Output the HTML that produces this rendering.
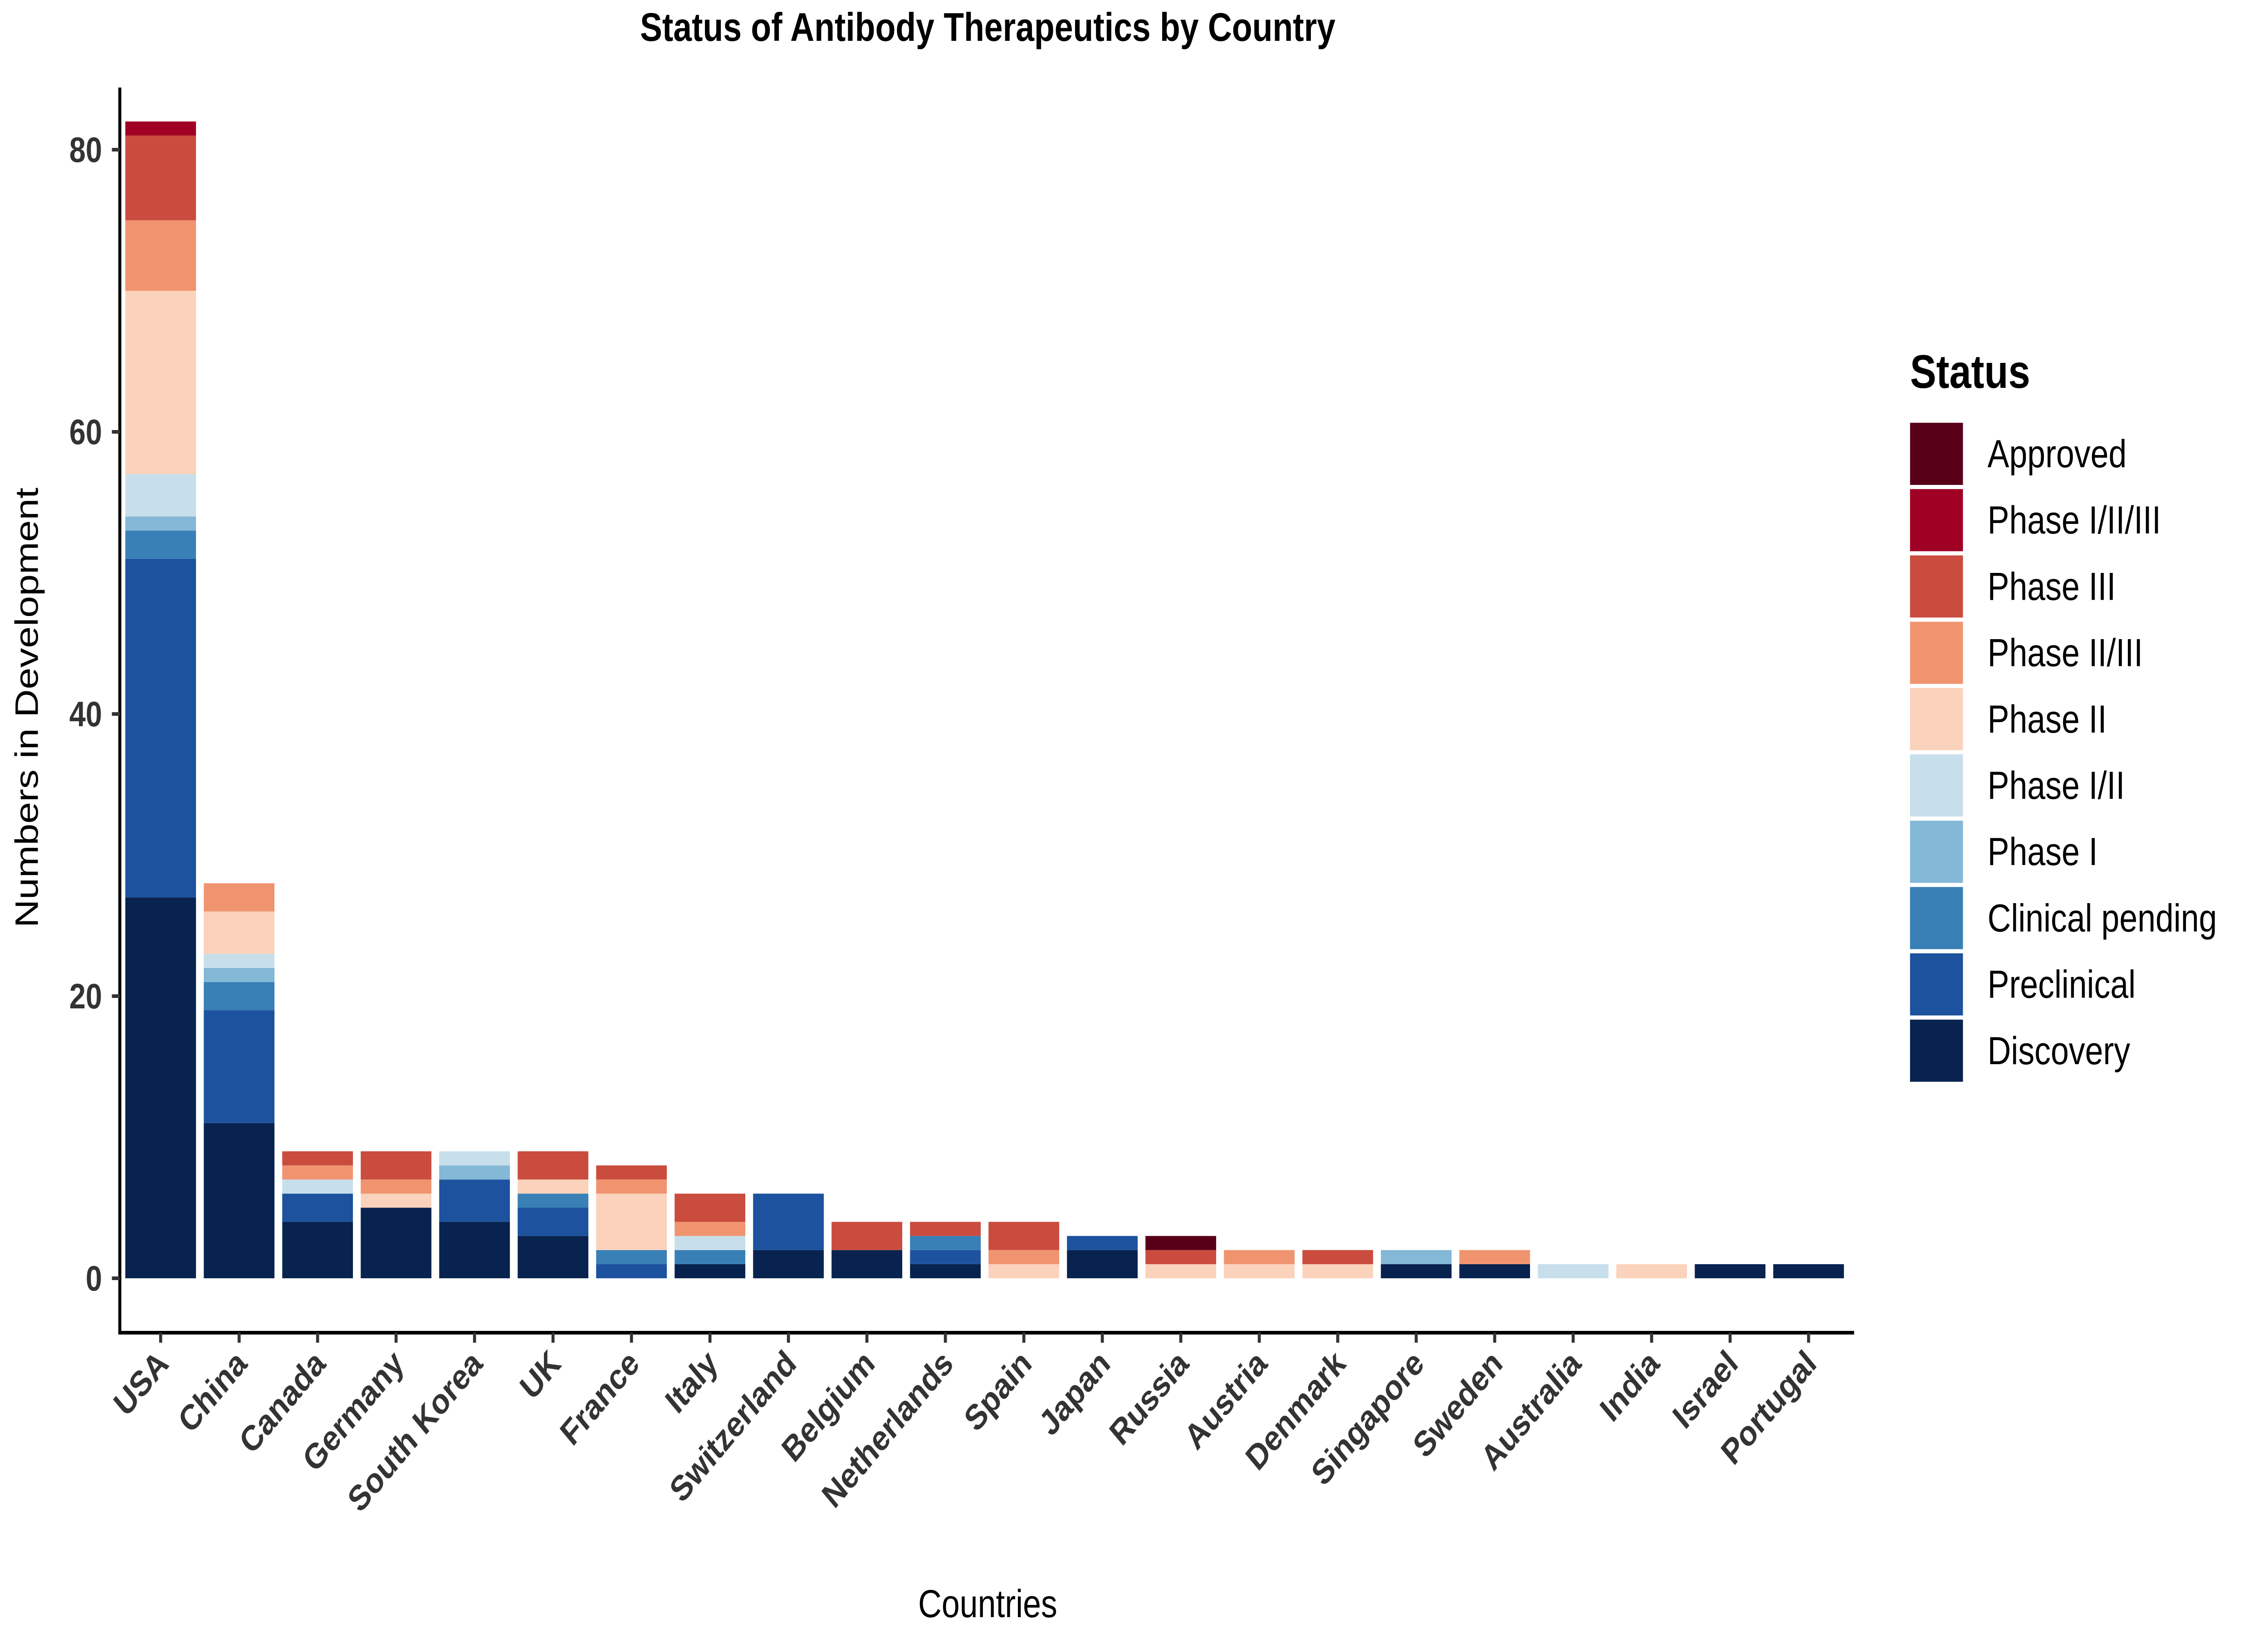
<!DOCTYPE html>
<html><head><meta charset="utf-8"><style>
html,body{margin:0;padding:0;background:#fff;width:100%;height:100%;overflow:hidden}
svg{display:block;width:100vw;height:100vh}
text{font-family:"Liberation Sans",Arial,sans-serif}
</style></head><body>
<svg id="chart" viewBox="0 0 6000 3600" preserveAspectRatio="none" xmlns="http://www.w3.org/2000/svg">
<text x="2613" y="90" font-size="88" font-weight="bold" text-anchor="middle" fill="#000">Status of Antibody Therapeutics by Country</text>
<g id="bars"></g>
<g id="axes"></g>
<text transform="translate(100,1560) rotate(-90)" font-size="86" text-anchor="middle" fill="#000">Numbers in Development</text>
<text x="2613" y="3565" font-size="86" text-anchor="middle" fill="#000">Countries</text>
<g id="legend"></g>
</svg>
<script>
const countries = ["USA","China","Canada","Germany","South Korea","UK","France","Italy","Switzerland","Belgium","Netherlands","Spain","Japan","Russia","Austria","Denmark","Singapore","Sweden","Australia","India","Israel","Portugal"];
const statuses = ["Discovery","Preclinical","Clinical pending","Phase I","Phase I/II","Phase II","Phase II/III","Phase III","Phase I/II/III","Approved"];
const colors = ["#08234f","#1c529e","#3880b6","#83b8d6","#c7dfeb","#fbd2bb","#f09470","#ca4c3f","#a00024","#590019"];
const discovery   = [27,11,4,5,4,3,0,1,2,2,1,0,2,0,0,0,1,1,0,0,1,1];
const preclinical = [24,8,2,0,3,2,1,0,4,0,1,0,1,0,0,0,0,0,0,0,0,0];
const clinPending = [2,2,0,0,0,1,1,1,0,0,1,0,0,0,0,0,0,0,0,0,0,0];
const phase1      = [1,1,0,0,1,0,0,0,0,0,0,0,0,0,0,0,1,0,0,0,0,0];
const phase12     = [3,1,1,0,1,0,0,1,0,0,0,0,0,0,0,0,0,0,1,0,0,0];
const phase2      = [13,3,0,1,0,1,4,0,0,0,0,1,0,1,1,1,0,0,0,1,0,0];
const phase23     = [5,2,1,1,0,0,1,1,0,0,0,1,0,0,1,0,0,1,0,0,0,0];
const phase3      = [6,0,1,2,0,2,1,2,0,2,1,2,0,1,0,1,0,0,0,0,0,0];
const phase123    = [1,0,0,0,0,0,0,0,0,0,0,0,0,0,0,0,0,0,0,0,0,0];
const approved    = [0,0,0,0,0,0,0,0,0,0,0,0,0,1,0,0,0,0,0,0,0,0];
const series = [discovery,preclinical,clinPending,phase1,phase12,phase2,phase23,phase3,phase123,approved];
const yTicks = [0,20,40,60,80];

const NS="http://www.w3.org/2000/svg";
const y0=2818, unit=31.1, x0=425, step=207.6, bw=187;
const yScale=v=>y0-v*unit;
const xScale=i=>x0+i*step;
function mk(tag,attrs,parent){const e=document.createElementNS(NS,tag);for(const k in attrs)e.setAttribute(k,attrs[k]);parent.appendChild(e);return e;}
const bars=document.getElementById('bars');
countries.forEach((c,i)=>{
  let cum=0;
  series.forEach((s,k)=>{
    const v=s[i]; if(!v) return;
    const r=mk('rect',{x:xScale(i)-bw/2,y:yScale(cum+v),width:bw,height:v*unit,fill:colors[k]},bars);
    
    
    cum+=v;
  });
});
const axes=document.getElementById('axes');
const yl=mk('line',{x1:317,y1:193,x2:317,y2:2942,stroke:'#000','stroke-width':8},axes);


const xl=mk('line',{x1:313,y1:2938,x2:4905,y2:2938,stroke:'#000','stroke-width':8},axes);


yTicks.forEach(t=>{
  const tk=mk('line',{x1:296,y1:yScale(t),x2:317,y2:yScale(t),stroke:'#333','stroke-width':8},axes);
  
  
  const tx=mk('text',{x:270,y:yScale(t)+27,'font-size':78,'font-weight':'bold','text-anchor':'end',fill:'#333'},axes);
  tx.textContent=t;
  
  
});
countries.forEach((c,i)=>{
  const x=xScale(i);
  const tk=mk('line',{x1:x,y1:2938,x2:x,y2:2960,stroke:'#333','stroke-width':8},axes);
  
  
  const tx=mk('text',{transform:`translate(${x+25},${3010}) rotate(-45)`,'font-size':78,'font-weight':'bold','text-anchor':'end',fill:'#333'},axes);
  tx.textContent=c;
  
  
});
const lg=document.getElementById('legend');
const lt=mk('text',{x:5053,y:855,'font-size':104,'font-weight':'bold',fill:'#000'},lg);
lt.textContent='Status';


for(let k=statuses.length-1,j=0;k>=0;k--,j++){
  const yy=932+j*146.2;
  const r=mk('rect',{x:5053,y:yy,width:140,height:137,fill:colors[k]},lg);
  
  
  const t=mk('text',{x:5258,y:yy+98,'font-size':86,fill:'#000'},lg);
  t.textContent=statuses[k];
  
  
}
</script>
</body></html>
